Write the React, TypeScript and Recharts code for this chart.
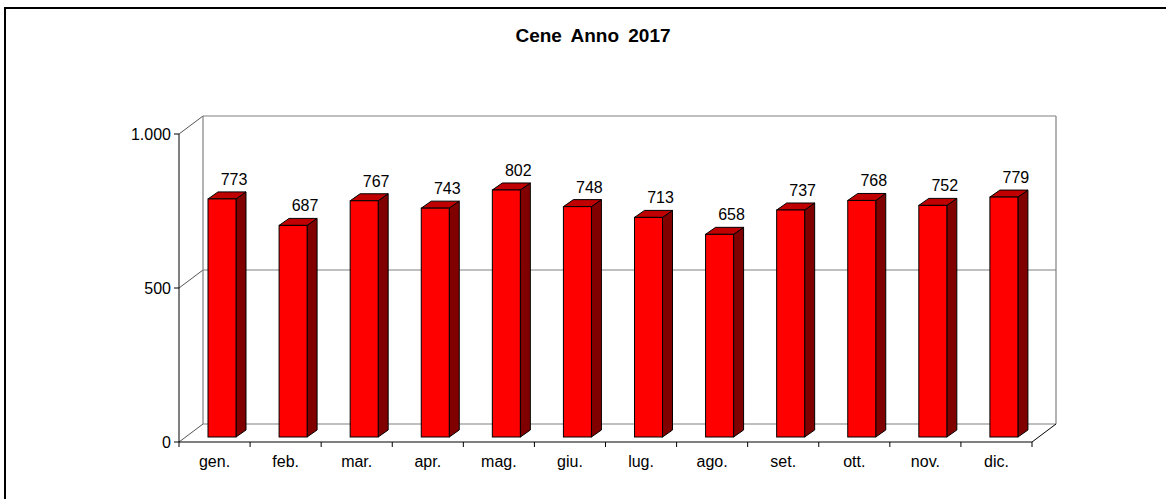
import { BarChart, Bar, XAxis, YAxis, CartesianGrid } from "recharts";

const months = ["gen.", "feb.", "mar.", "apr.", "mag.", "giu.", "lug.", "ago.", "set.", "ott.", "nov.", "dic."];
const cene = [773, 687, 767, 743, 802, 748, 713, 658, 737, 768, 752, 779];
const yTicks = [0, 500, 1000];
const title = "Cene Anno 2017";

const data = months.map((mese, i) => ({ mese, cene: cene[i] }));

// layout
const W = 1166;
const H = 499;
const M = { top: 134, right: 134, bottom: 27, left: 119 };
const PLOT_LEFT = 179;
const PLOT_W = W - M.right - PLOT_LEFT;
const PLOT_BOTTOM = H - M.bottom - 30;
const BAND_HALF = PLOT_W / months.length / 2;

// 3d depth
const WALL_DX = 24;
const WALL_DY = -18;
const BAR_DX = 10;
const BAR_DY = -7;
const BAR_SHIFT_X = 7;
const BAR_SHIFT_Y = -5;

const FONT = "'Liberation Sans', Arial, sans-serif";

const fmt = (v: number) => String(v).replace(/\B(?=(\d{3})+(?!\d))/g, ".");

function Bar3D(props: any) {
  const { x, y, width: w, height: h, value } = props;
  const fx = x + BAR_SHIFT_X;
  const fy = y + BAR_SHIFT_Y;
  const top = `${fx},${fy} ${fx + w},${fy} ${fx + w + BAR_DX},${fy + BAR_DY} ${fx + BAR_DX},${fy + BAR_DY}`;
  const side = `${fx + w},${fy} ${fx + w + BAR_DX},${fy + BAR_DY} ${fx + w + BAR_DX},${fy + h + BAR_DY} ${fx + w},${fy + h}`;
  return (
    <g>
      <polygon points={side} fill="#800000" stroke="#000" strokeWidth={1} strokeLinejoin="round" />
      <polygon points={top} fill="#C00000" stroke="#000" strokeWidth={1} strokeLinejoin="round" />
      <rect x={fx} y={fy} width={w} height={h} fill="#FF0000" stroke="#000" strokeWidth={1} />
      <text x={fx + w / 2 + 12} y={fy - 14} textAnchor="middle" fontSize={16} fontFamily={FONT} fill="#000">
        {value}
      </text>
    </g>
  );
}

function GridLine(props: any) {
  const { x1, y1, x2, index } = props;
  const bx1 = x1 + WALL_DX;
  const bx2 = x2 + WALL_DX;
  const by = y1 + WALL_DY;
  const isTop = y1 <= M.top + 1;
  const isBottom = y1 >= PLOT_BOTTOM - 1;
  return (
    <g key={`g-${index}`}>
      <line x1={x1} y1={y1} x2={bx1} y2={by} stroke="#555" strokeWidth={1} />
      <line x1={bx1} y1={by} x2={bx2} y2={by} stroke="#808080" strokeWidth={1.2} />
      {isTop && (
        <>
          <line x1={bx1} y1={by} x2={bx1} y2={PLOT_BOTTOM + WALL_DY} stroke="#808080" strokeWidth={1.2} />
          <line x1={bx2} y1={by} x2={bx2} y2={PLOT_BOTTOM + WALL_DY} stroke="#808080" strokeWidth={1.2} />
        </>
      )}
      {isBottom && <line x1={x2} y1={y1} x2={bx2} y2={by} stroke="#000" strokeWidth={1} />}
    </g>
  );
}

function YTick(props: any) {
  const { x, y, payload } = props;
  return (
    <g>
      <line x1={x - 5} y1={y} x2={x} y2={y} stroke="#000" strokeWidth={1} />
      <text x={x - 8} y={y + 6} textAnchor="end" fontSize={16} fontFamily={FONT} fill="#000">
        {fmt(payload.value)}
      </text>
    </g>
  );
}

function XTick(props: any) {
  const { x, y, payload, index } = props;
  return (
    <g>
      {index === 0 && <line x1={x - BAND_HALF} y1={y} x2={x - BAND_HALF} y2={y + 5} stroke="#000" strokeWidth={1} />}
      <line x1={x + BAND_HALF} y1={y} x2={x + BAND_HALF} y2={y + 5} stroke="#000" strokeWidth={1} />
      <text x={x} y={y + 25} textAnchor="middle" fontSize={16} fontFamily={FONT} fill="#000">
        {payload.value}
      </text>
    </g>
  );
}

export default function App() {
  return (
    <div style={{ position: "absolute", left: 0, top: 0, width: W, height: H, background: "#fff", overflow: "hidden" }}>
      <div
        style={{
          position: "absolute",
          left: 4,
          top: 7,
          width: W,
          height: H,
          borderLeft: "2px solid #000",
          borderTop: "2px solid #000",
        }}
      />
      <BarChart width={W} height={H} data={data} margin={M} style={{ position: "absolute", left: 0, top: 0 }}>
        <CartesianGrid horizontal={GridLine} vertical={false} />
        <XAxis
          dataKey="mese"
          interval={0}
          height={30}
          tickSize={0}
          tickMargin={0}
          tickLine={false}
          axisLine={{ stroke: "#000", strokeWidth: 1 }}
          tick={XTick}
        />
        <YAxis
          domain={[0, 1000]}
          ticks={yTicks}
          width={60}
          tickSize={0}
          tickMargin={0}
          tickLine={false}
          axisLine={{ stroke: "#000", strokeWidth: 1 }}
          tick={YTick}
        />
        <Bar dataKey="cene" barSize={28} shape={Bar3D} isAnimationActive={false} />
      </BarChart>
      <svg width={W} height={60} style={{ position: "absolute", left: 0, top: 0 }}>
        <text
          x={593}
          y={42}
          textAnchor="middle"
          fontSize={19}
          fontWeight="bold"
          wordSpacing={4}
          fontFamily={FONT}
          fill="#000"
        >
          {title}
        </text>
      </svg>
    </div>
  );
}
